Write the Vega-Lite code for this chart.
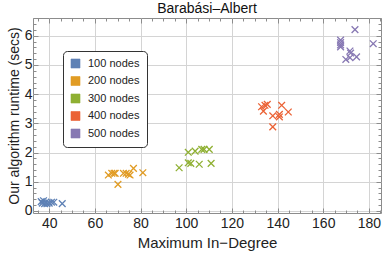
{
  "$schema": "https://vega.github.io/schema/vega-lite/v6.json",
  "width": 348,
  "height": 195,
  "autosize": "none",
  "padding": {"left": 33, "top": 18, "right": 1, "bottom": 43},
  "background": "white",
  "title": {"text": "Barabási–Albert", "font": "Liberation Sans", "fontSize": 14, "fontWeight": "normal", "color": "#111", "offset": 2},
  "config": {
    "font": "Liberation Sans",
    "view": {"stroke": "#8c8c8c", "strokeWidth": 1},
    "axis": {"domain": false, "labelFont": "Liberation Sans", "titleFont": "Liberation Sans", "labelFontSize": 14, "titleFontSize": 14, "titleFontWeight": "normal", "labelColor": "#222", "titleColor": "#222", "tickColor": "#8c8c8c"}
  },
  "data": {"values": [
    {"deg": 36.5, "t": 0.32, "n": "100 nodes"},
    {"deg": 37, "t": 0.27, "n": "100 nodes"},
    {"deg": 37.5, "t": 0.35, "n": "100 nodes"},
    {"deg": 38, "t": 0.25, "n": "100 nodes"},
    {"deg": 38.5, "t": 0.3, "n": "100 nodes"},
    {"deg": 39, "t": 0.25, "n": "100 nodes"},
    {"deg": 40, "t": 0.27, "n": "100 nodes"},
    {"deg": 41, "t": 0.3, "n": "100 nodes"},
    {"deg": 42, "t": 0.3, "n": "100 nodes"},
    {"deg": 45.7, "t": 0.25, "n": "100 nodes"},
    {"deg": 65.9, "t": 1.23, "n": "200 nodes"},
    {"deg": 67.4, "t": 1.29, "n": "200 nodes"},
    {"deg": 68.4, "t": 1.29, "n": "200 nodes"},
    {"deg": 68.9, "t": 1.29, "n": "200 nodes"},
    {"deg": 72.5, "t": 1.29, "n": "200 nodes"},
    {"deg": 73.7, "t": 1.29, "n": "200 nodes"},
    {"deg": 74.7, "t": 1.26, "n": "200 nodes"},
    {"deg": 75.4, "t": 1.23, "n": "200 nodes"},
    {"deg": 76.9, "t": 1.46, "n": "200 nodes"},
    {"deg": 81, "t": 1.31, "n": "200 nodes"},
    {"deg": 70.1, "t": 0.91, "n": "200 nodes"},
    {"deg": 96.9, "t": 1.48, "n": "300 nodes"},
    {"deg": 100.9, "t": 1.65, "n": "300 nodes"},
    {"deg": 100.9, "t": 2.01, "n": "300 nodes"},
    {"deg": 102, "t": 1.63, "n": "300 nodes"},
    {"deg": 103.9, "t": 2.05, "n": "300 nodes"},
    {"deg": 105.7, "t": 1.6, "n": "300 nodes"},
    {"deg": 106.8, "t": 2.11, "n": "300 nodes"},
    {"deg": 107.8, "t": 2.11, "n": "300 nodes"},
    {"deg": 110.1, "t": 2.11, "n": "300 nodes"},
    {"deg": 110.9, "t": 1.63, "n": "300 nodes"},
    {"deg": 133.0, "t": 3.57, "n": "400 nodes"},
    {"deg": 134.5, "t": 3.62, "n": "400 nodes"},
    {"deg": 135.5, "t": 3.65, "n": "400 nodes"},
    {"deg": 133.8, "t": 3.42, "n": "400 nodes"},
    {"deg": 137.9, "t": 3.26, "n": "400 nodes"},
    {"deg": 140.8, "t": 3.31, "n": "400 nodes"},
    {"deg": 140.8, "t": 3.22, "n": "400 nodes"},
    {"deg": 141.8, "t": 3.62, "n": "400 nodes"},
    {"deg": 144.7, "t": 3.39, "n": "400 nodes"},
    {"deg": 137.9, "t": 2.88, "n": "400 nodes"},
    {"deg": 167.6, "t": 5.85, "n": "500 nodes"},
    {"deg": 167.6, "t": 5.77, "n": "500 nodes"},
    {"deg": 167.6, "t": 5.69, "n": "500 nodes"},
    {"deg": 167.6, "t": 5.62, "n": "500 nodes"},
    {"deg": 173.9, "t": 6.21, "n": "500 nodes"},
    {"deg": 171.7, "t": 5.48, "n": "500 nodes"},
    {"deg": 172, "t": 5.41, "n": "500 nodes"},
    {"deg": 169.9, "t": 5.19, "n": "500 nodes"},
    {"deg": 171.7, "t": 5.25, "n": "500 nodes"},
    {"deg": 174.6, "t": 5.28, "n": "500 nodes"},
    {"deg": 181.9, "t": 5.73, "n": "500 nodes"}
  ]},
  "resolve": {"axis": {"x": "independent", "y": "independent"}},
  "layer": [
    {
      "mark": {"type": "point", "shape": "M-1,-1L1,1M-1,1L1,-1", "filled": true, "size": 45, "strokeWidth": 1.3, "opacity": 1},
      "encoding": {
        "x": {"field": "deg", "type": "quantitative", "scale": {"domain": [32.9, 185.3], "nice": false, "zero": false},
          "axis": {"orient": "bottom", "title": "Maximum In−Degree", "titlePadding": 5, "titleFontSize": 15,
            "values": [35,40,45,50,55,60,65,70,75,80,85,90,95,100,105,110,115,120,125,130,135,140,145,150,155,160,165,170,175,180,185],
            "labelExpr": "datum.value % 20 === 0 ? datum.label : ''",
            "tickSize": {"condition": {"test": "datum.value % 20 === 0", "value": -5}, "value": -3},
            "labelPadding": 8,
            "grid": true, "gridColor": "#d4d4d4", "gridWidth": 1,
            "gridOpacity": {"condition": {"test": "datum.value % 20 === 0", "value": 1}, "value": 0}}},
        "y": {"field": "t", "type": "quantitative", "scale": {"domain": [-0.07, 6.61], "nice": false, "zero": false},
          "axis": {"orient": "left", "title": "Our algorithm runtime (secs)", "titlePadding": 3,
            "values": [0,0.2,0.4,0.6,0.8,1,1.2,1.4,1.6,1.8,2,2.2,2.4,2.6,2.8,3,3.2,3.4,3.6,3.8,4,4.2,4.4,4.6,4.8,5,5.2,5.4,5.6,5.8,6,6.2,6.4,6.6],
            "labelExpr": "abs(datum.value - round(datum.value)) < 0.01 ? toString(round(datum.value)) : ''",
            "tickSize": {"condition": {"test": "abs(datum.value - round(datum.value)) < 0.01", "value": -5}, "value": -3},
            "labelPadding": 6,
            "grid": true, "gridColor": "#d4d4d4", "gridWidth": 1,
            "gridOpacity": {"condition": {"test": "abs(datum.value - round(datum.value)) < 0.01", "value": 1}, "value": 0}}},
        "fill": {"field": "n", "type": "nominal",
          "scale": {"domain": ["100 nodes", "200 nodes", "300 nodes", "400 nodes", "500 nodes"], "range": ["#5E81B5", "#E19C24", "#8FB032", "#EB6235", "#8778B3"]},
          "legend": {"title": null, "orient": "none", "legendX": 30, "legendY": 33,
            "symbolType": "square", "symbolSize": 81, "symbolStrokeWidth": 0.6, "symbolStrokeColor": "#777",
            "labelFontSize": 11, "labelFont": "Liberation Sans", "labelColor": "#222", "labelOffset": 7,
            "rowPadding": 4.5, "padding": 7,
            "strokeColor": "#333", "fillColor": "white", "cornerRadius": 4}},
        "stroke": {"field": "n", "type": "nominal",
          "scale": {"domain": ["100 nodes", "200 nodes", "300 nodes", "400 nodes", "500 nodes"], "range": ["#5E81B5", "#E19C24", "#8FB032", "#EB6235", "#8778B3"]},
          "legend": null}
      }
    },
    {
      "mark": {"type": "point", "opacity": 0},
      "encoding": {
        "x": {"field": "deg", "type": "quantitative",
          "axis": {"orient": "top", "title": null, "labels": false, "grid": false,
            "values": [35,40,45,50,55,60,65,70,75,80,85,90,95,100,105,110,115,120,125,130,135,140,145,150,155,160,165,170,175,180,185],
            "tickSize": {"condition": {"test": "datum.value % 20 === 0", "value": -5}, "value": -3}}},
        "y": {"field": "t", "type": "quantitative",
          "axis": {"orient": "right", "title": null, "labels": false, "grid": false,
            "values": [0,0.2,0.4,0.6,0.8,1,1.2,1.4,1.6,1.8,2,2.2,2.4,2.6,2.8,3,3.2,3.4,3.6,3.8,4,4.2,4.4,4.6,4.8,5,5.2,5.4,5.6,5.8,6,6.2,6.4,6.6],
            "tickSize": {"condition": {"test": "abs(datum.value - round(datum.value)) < 0.01", "value": -5}, "value": -3}}}
      }
    }
  ]
}
